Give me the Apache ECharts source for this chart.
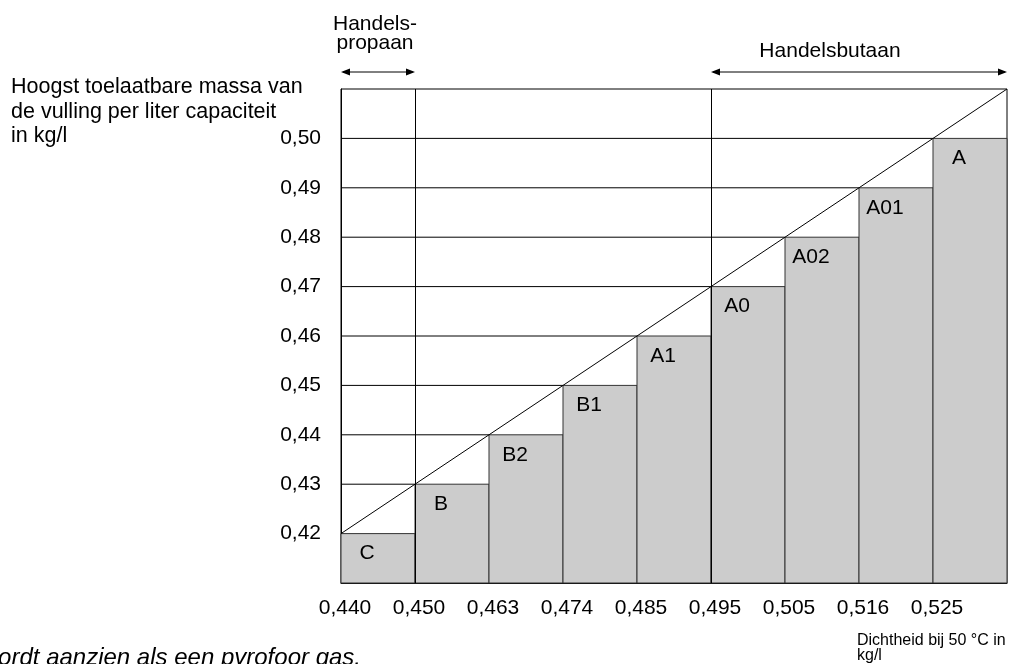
<!DOCTYPE html>
<html>
<head>
<meta charset="utf-8">
<script src="https://cdn.jsdelivr.net/npm/echarts@6/dist/echarts.min.js"></script>
<style>
  html, body { margin: 0; padding: 0; background: #fff; }
  #chart { width: 1033px; height: 664px; }
</style>
</head>
<body>
<div id="chart"></div>
<script>
// ---- data ----
const categories = ['C', 'B', 'B2', 'B1', 'A1', 'A0', 'A02', 'A01', 'A'];
const densityTicks = ['0,440', '0,450', '0,463', '0,474', '0,485', '0,495', '0,505', '0,516', '0,525'];
const maxFillMass = [0.42, 0.43, 0.44, 0.45, 0.46, 0.47, 0.48, 0.49, 0.50];
const yTickValues = [0.42, 0.43, 0.44, 0.45, 0.46, 0.47, 0.48, 0.49, 0.50];
const diagonal = [[0, 0.42], [9, 0.51]];
const groupBoundaries = [1, 5];   // propaan | butaan splits (tick index: 0,450 and 0,495)

const FONT = 'Liberation Sans, Arial, Helvetica, sans-serif';
const chart = echarts.init(document.getElementById('chart'));

const barData = categories.map((c, i) => [i, maxFillMass[i], c]);
const guideData = yTickValues.map((v, i) => [i, v]);

const option = {
  animation: false,
  backgroundColor: '#fff',
  grid: { left: 341, right: 26, top: 89, bottom: 81, show: true, borderColor: '#000', borderWidth: 1, backgroundColor: 'transparent' },
  xAxis: {
    type: 'value', min: 0, max: 9, interval: 1,
    axisLine: { show: true, lineStyle: { color: '#000', width: 1 } },
    axisTick: { show: false },
    splitLine: { show: false },
    axisLabel: {
      color: '#000', fontFamily: FONT, fontSize: 21, margin: 15, padding: [0, 0, 0, 8],
      formatter: v => densityTicks[Math.round(v)] || ''
    }
  },
  yAxis: {
    type: 'value', min: 0.41, max: 0.51, interval: 0.01,
    axisLine: { show: true, lineStyle: { color: '#000', width: 1 } },
    axisTick: { show: false },
    splitLine: { show: false },
    axisLabel: {
      color: '#000', fontFamily: FONT, fontSize: 21, margin: 20,
      formatter: v => (v > 0.415 && v < 0.505) ? v.toFixed(2).replace('.', ',') : ''
    }
  },
  series: [
    {
      type: 'custom', z: 1, silent: true, clip: false,
      data: guideData,
      renderItem: (params, api) => {
        const i = api.value(0), v = api.value(1);
        const a = api.coord([0, v]), b = api.coord([i, v]);
        return { type: 'line', shape: { x1: a[0], y1: a[1], x2: b[0], y2: b[1] }, style: { stroke: '#000', lineWidth: 1 } };
      }
    },
    {
      type: 'custom', z: 2, silent: true,
      data: barData,
      encode: { x: 0, y: 1 },
      renderItem: (params, api) => {
        const i = api.value(0), v = api.value(1);
        const p0 = api.coord([i, 0.41]);
        const p1 = api.coord([i + 1, v]);
        const name = barData[params.dataIndex][2];
        return {
          type: 'group',
          children: [
            { type: 'rect', shape: { x: p0[0], y: p1[1], width: p1[0] - p0[0], height: p0[1] - p1[1] },
              style: { fill: '#cccccc', stroke: '#333', lineWidth: 1 } },
            { type: 'text', x: (p0[0] + p1[0]) / 2 - 11, y: p1[1] + 20,
              style: { text: name, fill: '#000', font: '21px ' + FONT, align: 'center', verticalAlign: 'middle' } }
          ]
        };
      }
    },
    {
      type: 'line', z: 3, silent: true,
      data: diagonal,
      symbol: 'none',
      lineStyle: { color: '#000', width: 1 },
      markLine: {
        silent: true, symbol: 'none', label: { show: false },
        lineStyle: { color: '#000', width: 1, type: 'solid' },
        data: groupBoundaries.map(x => ({ xAxis: x }))
      }
    }
  ]
};
chart.setOption(option);

// ---- annotations (arrows and texts) ----
const px = x => chart.convertToPixel({ xAxisIndex: 0 }, x);
function arrow(xa, xb, y) {
  const h = 9, w = 3.5;
  return [
    { type: 'line', shape: { x1: xa + 2, y1: y, x2: xb - 2, y2: y }, style: { stroke: '#000', lineWidth: 1 } },
    { type: 'polygon', shape: { points: [[xa, y], [xa + h, y - w], [xa + h, y + w]] }, style: { fill: '#000' } },
    { type: 'polygon', shape: { points: [[xb, y], [xb - h, y - w], [xb - h, y + w]] }, style: { fill: '#000' } }
  ];
}
const arrowY = 72;
const g = [].concat(
  arrow(px(0), px(groupBoundaries[0]), arrowY),
  arrow(px(groupBoundaries[1]), px(9), arrowY),
  [
    { type: 'text', x: 375, y: 15, style: { text: 'Handels-\npropaan', font: '21px ' + FONT, fill: '#000', align: 'center', verticalAlign: 'top', lineHeight: 19 } },
    { type: 'text', x: 830, y: 51, style: { text: 'Handelsbutaan', font: '21px ' + FONT, fill: '#000', align: 'center', verticalAlign: 'middle' } },
    { type: 'text', x: 11, y: 75, style: { text: 'Hoogst toelaatbare massa van\nde vulling per liter capaciteit\nin kg/l', font: '21.5px ' + FONT, fill: '#000', align: 'left', verticalAlign: 'top', lineHeight: 24.5 } },
    { type: 'text', x: 857, y: 633, style: { text: 'Dichtheid bij 50 °C in\nkg/l', font: '16px ' + FONT, fill: '#000', align: 'left', verticalAlign: 'top', lineHeight: 15 } },
    { type: 'text', x: 361, y: 670, style: { text: 'wordt aanzien als een pyrofoor gas.', font: 'italic 24px ' + FONT, fill: '#000', align: 'right', verticalAlign: 'bottom' } }
  ]
);
chart.setOption({ graphic: g });
</script>
</body>
</html>
